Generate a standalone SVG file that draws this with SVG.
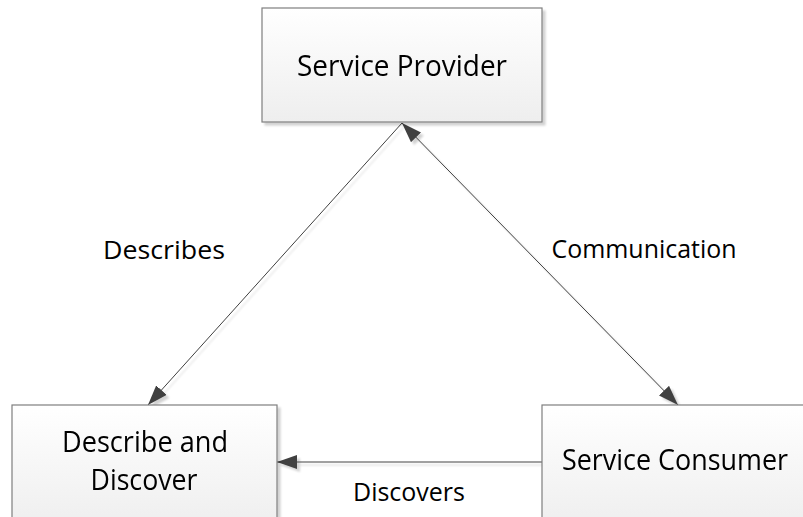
<svg xmlns="http://www.w3.org/2000/svg" width="803" height="517" viewBox="0 0 803 517">
  <defs>
    <linearGradient id="boxfill" x1="0" y1="0" x2="0" y2="1">
      <stop offset="0" stop-color="#ffffff"/>
      <stop offset="1" stop-color="#eeeeee"/>
    </linearGradient>
    <filter id="shadow" x="-10%" y="-10%" width="120%" height="120%">
      <feOffset in="SourceAlpha" dx="3" dy="3" result="off"/>
      <feGaussianBlur in="off" stdDeviation="1" result="blur"/>
      <feComponentTransfer in="blur" result="sh"><feFuncA type="linear" slope="0.18"/></feComponentTransfer>
      <feMerge><feMergeNode in="sh"/><feMergeNode in="SourceGraphic"/></feMerge>
    </filter>
    <marker id="arrow" viewBox="0 0 20 14" refX="20" refY="7" markerWidth="20" markerHeight="14" markerUnits="userSpaceOnUse" orient="auto-start-reverse">
      <path d="M0,0 L20,7 L0,14 Z" fill="#404040"/>
    </marker>
    <style>
      .box { fill: url(#boxfill); stroke: #7f7f7f; stroke-width: 1.2; }
      .node text { font-family: "Open Sans", "Liberation Sans", sans-serif; font-size: 30px; fill: #000; text-anchor: middle; }
      .lbl { font-family: "Open Sans", "Liberation Sans", sans-serif; font-size: 26px; fill: #000; text-anchor: middle; }
      .conn { stroke: #404040; stroke-width: 1; fill: none; }
    </style>
  </defs>

  <g id="connectors" filter="url(#shadow)">
    <line class="conn" x1="402" y1="123" x2="148" y2="405" marker-end="url(#arrow)"/>
    <line class="conn" x1="402" y1="123" x2="678" y2="405" marker-start="url(#arrow)" marker-end="url(#arrow)"/>
    <line class="conn" x1="542" y1="462" x2="277" y2="462" marker-end="url(#arrow)"/>
  </g>

  <g id="service-provider" class="node" filter="url(#shadow)">
    <rect class="box" x="262" y="8" width="280" height="114"/>
    <text x="402" y="76" textLength="210" lengthAdjust="spacingAndGlyphs">Service Provider</text>
  </g>

  <g id="describe-and-discover" class="node" filter="url(#shadow)">
    <rect class="box" x="12" y="405" width="265" height="125"/>
    <text x="145" y="452" textLength="166" lengthAdjust="spacingAndGlyphs">Describe and</text>
    <text x="144" y="490" textLength="107" lengthAdjust="spacingAndGlyphs">Discover</text>
  </g>

  <g id="service-consumer" class="node" filter="url(#shadow)">
    <rect class="box" x="542" y="405" width="270" height="125"/>
    <text x="675" y="470" textLength="226" lengthAdjust="spacingAndGlyphs">Service Consumer</text>
  </g>

  <g id="labels">
    <text class="lbl" x="164" y="259" textLength="122" lengthAdjust="spacingAndGlyphs">Describes</text>
    <text class="lbl" x="644" y="258" textLength="185" lengthAdjust="spacingAndGlyphs">Communication</text>
    <text class="lbl" x="409" y="501" textLength="112" lengthAdjust="spacingAndGlyphs">Discovers</text>
  </g>
</svg>
